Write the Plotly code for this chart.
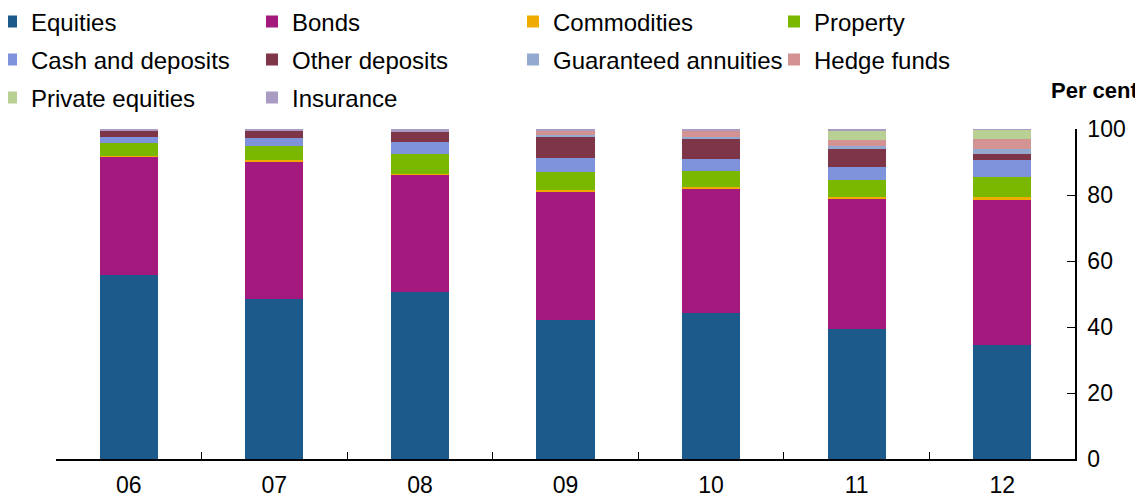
import plotly.graph_objects as go

years = ["06", "07", "08", "09", "10", "11", "12"]
equities = [55.7, 48.5, 50.6, 42.1, 44.2, 39.4, 34.5]
bonds = [35.9, 41.8, 35.5, 39.1, 37.7, 39.4, 44.2]
commodities = [0.3, 0.2, 0.3, 0.3, 0.6, 0.6, 0.6]
property_ = [3.8, 4.5, 6.1, 5.4, 4.8, 5.2, 6.3]
cash_deposits = [1.8, 2.4, 3.6, 4.3, 3.5, 3.8, 4.9]
other_deposits = [1.8, 2.1, 3.0, 6.4, 6.3, 5.6, 1.8]
guaranteed_annuities = [0.0, 0.0, 0.0, 0.6, 0.6, 1.0, 1.7]
hedge_funds = [0.0, 0.0, 0.0, 1.3, 1.7, 1.8, 3.0]
private_equities = [0.0, 0.0, 0.0, 0.0, 0.0, 2.6, 2.8]
insurance = [0.9, 0.9, 1.2, 0.8, 0.8, 0.8, 0.3]

series = [
    ("Equities", equities, "#1B5A8B", "legend"),
    ("Bonds", bonds, "#A3197D", "legend"),
    ("Commodities", commodities, "#F0AB00", "legend"),
    ("Property", property_, "#7AB800", "legend"),
    ("Cash and deposits", cash_deposits, "#7F93DC", "legend2"),
    ("Other deposits", other_deposits, "#7E3547", "legend2"),
    ("Guaranteed annuities", guaranteed_annuities, "#93A9D0", "legend2"),
    ("Hedge funds", hedge_funds, "#D49393", "legend2"),
    ("Private equities", private_equities, "#B9D095", "legend3"),
    ("Insurance", insurance, "#A99BC1", "legend3"),
]

FONT = "Liberation Sans, Arial, sans-serif"
FS = 23

fig = go.Figure()
for name, vals, color, leg in series:
    fig.add_trace(go.Bar(
        x=years, y=vals, name=name, legend=leg,
        marker=dict(color=color, line=dict(width=0)),
    ))

# page has an 8px body margin; figure occupies page x 8..1143, y 8..497
OFF = 8
PL, PR, PT, PB = 56, 1075, 129, 459   # plot area in page pixels
W_FIG, H_FIG = 1143 - OFF, 497 - OFF
L, T = PL - OFF, PT - OFF
R, B = 1143 - PR, 497 - PB
W_PLOT = PR - PL
H_PLOT = PB - PT

def py(px):
    return (PB - px) / H_PLOT

def pxx(px):
    return (px - PL) / W_PLOT

legend_common = dict(
    orientation="h", xanchor="left", yanchor="middle",
    x=pxx(-9), traceorder="normal",
    font=dict(family=FONT, size=24, color="#000000"),
    entrywidth=216, entrywidthmode="pixels",
    bgcolor="rgba(0,0,0,0)", itemclick=False, itemdoubleclick=False,
)

fig.update_layout(
    width=W_FIG, height=H_FIG,
    margin=dict(l=L, r=R, t=T, b=B, autoexpand=False),
    paper_bgcolor="white", plot_bgcolor="white",
    barmode="stack", bargap=0.6,
    font=dict(family=FONT, size=FS, color="#000000"),
    legend=dict(legend_common, y=py(22)),
    legend2=dict(legend_common, y=py(60)),
    legend3=dict(legend_common, y=py(98)),
    xaxis=dict(
        showgrid=False, showline=True, linecolor="#000000", linewidth=2,
        ticks="inside", tickson="boundaries", ticklen=7, tickcolor="#000000",
        tickwidth=1, tickfont=dict(family=FONT, size=FS, color="#000000"),
        automargin=False, ticklabelstandoff=4,
    ),
    yaxis=dict(
        side="right", range=[0, 100], dtick=20, showgrid=False,
        showline=True, linecolor="#000000", linewidth=1.5,
        ticks="inside", ticklen=8, tickcolor="#000000", tickwidth=1,
        tickfont=dict(family=FONT, size=FS, color="#000000"),
        zeroline=False, automargin=False, ticklabelstandoff=6,
    ),
    annotations=[dict(
        text="<b>Per cent</b>", xref="paper", yref="paper",
        x=pxx(1140), y=py(90), xanchor="right", yanchor="middle",
        showarrow=False, font=dict(family=FONT, size=FS - 1, color="#000000"),
    )],
)

fig.write_html("out.html")
